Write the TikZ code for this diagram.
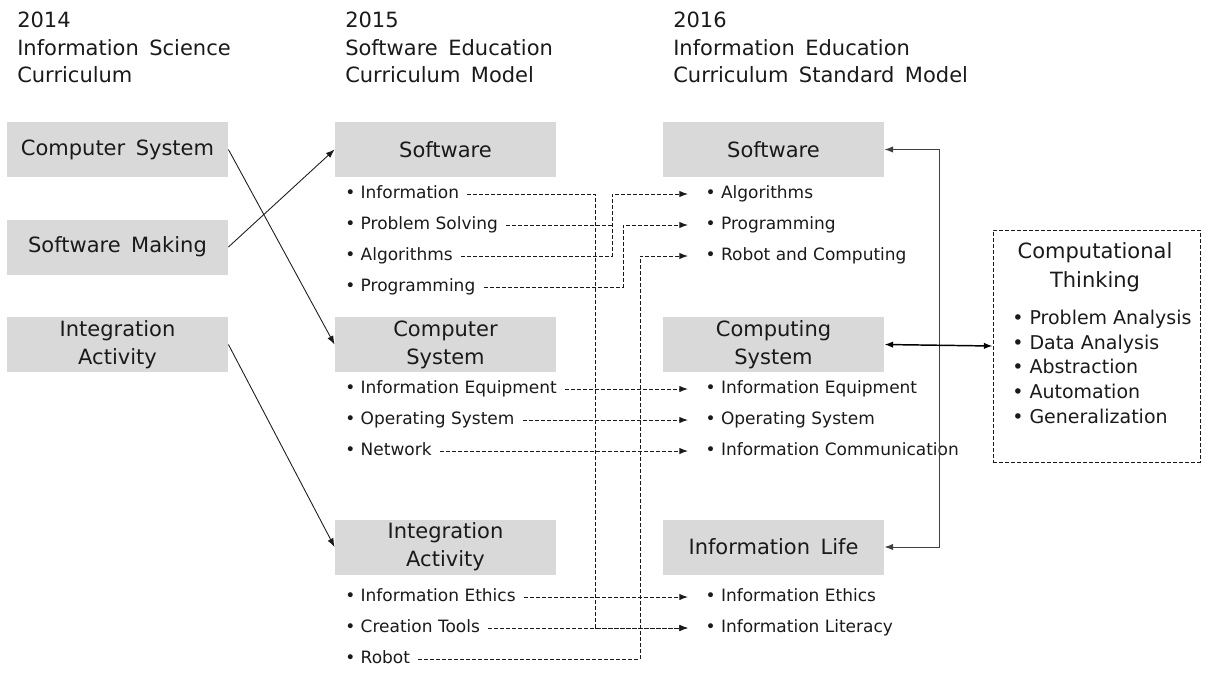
\documentclass[tikz,border=0pt]{standalone}
\usepackage{fontspec}
\setmainfont{DejaVu Sans}
\usetikzlibrary{arrows.meta}

\definecolor{boxgray}{HTML}{D9D9D9}
\definecolor{ink}{HTML}{1A1A1A}
\definecolor{wire}{HTML}{1A1A1A}

\newcommand{\myhd}{\fontsize{15.75pt}{21pt}\selectfont}
\newcommand{\myit}{\fontsize{12.75pt}{15pt}\selectfont}
\newcommand{\myct}{\fontsize{14.25pt}{17pt}\selectfont}
\newcommand{\wsp}{\hspace{0.5em}}

\begin{document}
\begin{tikzpicture}[x=0.75pt,y=-0.75pt,
  every node/.style={text=ink},
  hdr/.style={anchor=base west, inner sep=0pt, font=\myhd},
  box/.style={fill=boxgray, minimum width=166pt, minimum height=41.25pt,
              align=center, inner sep=0pt, font=\myhd},
  src/.style={anchor=west, font=\myit, inner ysep=0pt, inner xsep=6pt,
              text height=9.7pt, text depth=2.9pt},
  tgt/.style={src, inner xsep=13pt},
  ctbox/.style={draw=wire, dash pattern=on 3pt off 1.5pt, line width=0.7pt,
                minimum width=155.25pt, minimum height=174pt, inner sep=0pt},
  cttitle/.style={anchor=base, inner sep=0pt, font=\myhd},
  ctitem/.style={anchor=base west, inner sep=0pt, font=\myct},
  tip/.tip={Latex[length=6.5pt,width=4.8pt]},
  solidarrow/.style={draw=wire, line width=0.65pt, -tip},
  dsh/.style={draw=wire, line width=0.75pt, dash pattern=on 3pt off 1.5pt},
  dsharrow/.style={dsh, -tip},
  busarrow/.style={draw=black!75, line width=0.75pt, tip-tip},
  ctarrow/.style={draw=black, line width=1.1pt, tip-tip}
]
\useasboundingbox (0,0) rectangle (1205,672);

% column headings
\node[hdr] (h14a) at (17,27) {2014};
\node[hdr] (h14b) at (17,55) {Information\wsp Science};
\node[hdr] (h14c) at (17,82) {Curriculum};
\node[hdr] (h15a) at (345,27) {2015};
\node[hdr] (h15b) at (345,55) {Software\wsp Education};
\node[hdr] (h15c) at (345,82) {Curriculum\wsp Model};
\node[hdr] (h16a) at (673,27) {2016};
\node[hdr] (h16b) at (673,55) {Information\wsp Education};
\node[hdr] (h16c) at (673,82) {Curriculum\wsp Standard\wsp Model};

% 2014 areas
\node[box] (a1) at (117.5,149.5) {Computer\wsp System};
\node[box] (a2) at (117.5,247) {Software\wsp Making};
\node[box] (a3) at (117.5,344.5) {Integration\\Activity};

% 2015 areas
\node[box] (b1) at (445.5,149.5) {Software};
\node[box] (b2) at (445.5,344.5) {Computer\\System};
\node[box] (b3) at (445.5,547) {Integration\\Activity};

% 2016 areas
\node[box] (c1) at (773.5,149.5) {Software};
\node[box] (c2) at (773.5,344.5) {Computing\\System};
\node[box] (c3) at (773.5,547) {Information\wsp Life};

% 2015 topics
\node[src] (s1)  at (337,194) {• Information};
\node[src] (s2)  at (337,225) {• Problem Solving};
\node[src] (s3)  at (337,256) {• Algorithms};
\node[src] (s4)  at (337,287) {• Programming};
\node[src] (s5)  at (337,389) {• Information Equipment};
\node[src] (s6)  at (337,420) {• Operating System};
\node[src] (s7)  at (337,451) {• Network};
\node[src] (s8)  at (337,597) {• Information Ethics};
\node[src] (s9)  at (337,628) {• Creation Tools};
\node[src] (s10) at (337,659) {• Robot};

% 2016 topics
\node[tgt] (t1) at (688,194) {• Algorithms};
\node[tgt] (t2) at (688,225) {• Programming};
\node[tgt] (t3) at (688,256) {• Robot and Computing};
\node[tgt] (t4) at (688,389) {• Information Equipment};
\node[tgt] (t5) at (688,420) {• Operating System};
\node[tgt] (t6) at (688,451) {• Information Communication};
\node[tgt] (t7) at (688,597) {• Information Ethics};
\node[tgt] (t8) at (688,628) {• Information Literacy};

% computational thinking panel
\node[ctbox] (ct) at (1096.5,346) {};
\node[cttitle] (ct1) at (1095,258) {Computational};
\node[cttitle] (ct2) at (1095,287) {Thinking};
\node[ctitem] (ctb1) at (1012,324) {• Problem Analysis};
\node[ctitem] (ctb2) at (1012,349) {• Data Analysis};
\node[ctitem] (ctb3) at (1012,373) {• Abstraction};
\node[ctitem] (ctb4) at (1012,398) {• Automation};
\node[ctitem] (ctb5) at (1012,423) {• Generalization};

% 2014 -> 2015
\draw[solidarrow] (a1.east) -- (b2.west);
\draw[solidarrow] (a2.east) -- (b1.west);
\draw[solidarrow] (a3.east) -- (b3.west);

% routing points of the bent topic links
\coordinate (j1) at (595,628);
\coordinate (j2) at (612,194);
\coordinate (j3) at (623,225);
\coordinate (j4) at (640,256);

% 2015 topics -> 2016 topics
\draw[dsharrow] (s1.east) -| (j1) -- (t8.west);
\draw[dsharrow] (s3.east) -| (j2) -- (t1.west);
\draw[dsh] (s2.east) -- (s2.east -| j2);
\draw[dsharrow] (s4.east) -| (j3) -- (t2.west);
\draw[dsharrow] (s10.east) -| (j4) -- (t3.west);
\draw[dsharrow] (s5.east) -- (t4.west);
\draw[dsharrow] (s6.east) -- (t5.west);
\draw[dsharrow] (s7.east) -- (t6.west);
\draw[dsharrow] (s8.east) -- (t7.west);
\draw[dsharrow] (s9.east) -- (t8.west);

% links between the 2016 areas and computational thinking
\coordinate (bus) at (939,547);
\draw[busarrow] (c1.east) -| (bus) -- (c3.east);
\draw[ctarrow] (c2.east) -- (ct.west);
\end{tikzpicture}
\end{document}
